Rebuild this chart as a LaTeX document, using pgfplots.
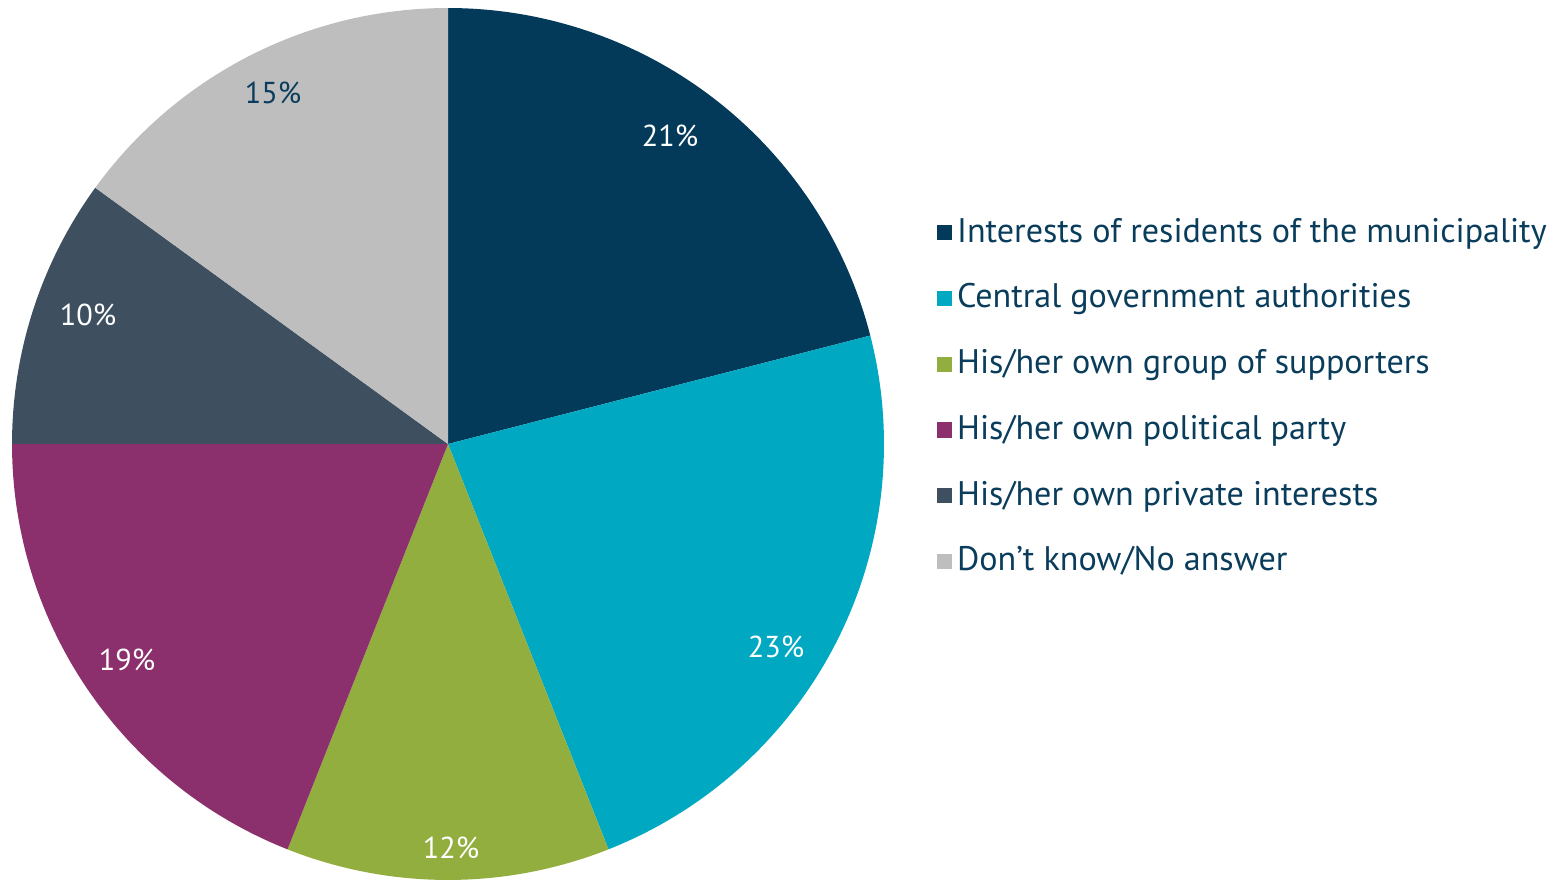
\documentclass[border=0pt]{standalone}
\usepackage{pgfplots}
\pgfplotsset{compat=1.18}
\usepackage{fontspec}
\setmainfont{PT Sans}
\definecolor{c1}{HTML}{033A5A}
\definecolor{c2}{HTML}{00A8C1}
\definecolor{c3}{HTML}{92AE3E}
\definecolor{c4}{HTML}{8B306C}
\definecolor{c5}{HTML}{3E5060}
\definecolor{c6}{HTML}{BEBEBE}
\definecolor{txt}{HTML}{0A3D5C}
% shares (percent), clockwise from 12 o'clock
\def\vA{21}\def\vB{23}\def\vC{12}\def\vD{19}\def\vE{10}\def\vF{15}
\pgfmathsetmacro{\aA}{90}
\pgfmathsetmacro{\aB}{\aA-3.6*\vA}
\pgfmathsetmacro{\aC}{\aB-3.6*\vB}
\pgfmathsetmacro{\aD}{\aC-3.6*\vC}
\pgfmathsetmacro{\aE}{\aD-3.6*\vD}
\pgfmathsetmacro{\aF}{\aE-3.6*\vE}
\pgfmathsetmacro{\aG}{\aF-3.6*\vF}
\def\cx{448}\def\cy{436}\def\rr{436}
\begin{document}
\begin{tikzpicture}
\begin{axis}[
  width=15.64cm, height=8.8cm, scale only axis,
  xmin=0, xmax=1564, ymin=0, ymax=880,
  hide axis, clip=false,
  legend style={at={(axis cs:936,668)}, anchor=north west, draw=none, fill=none,
    font=\fontsize{9.7}{11}\selectfont, text=txt, row sep=7.3pt,
    inner sep=0pt, nodes={inner sep=1.5pt}},
  legend cell align=left,
  legend image code/.code={\fill[#1,draw=none] (0pt,-2.2pt) rectangle (4.3pt,2.1pt);},
]
\addplot[fill=c1,draw=none,domain=\aB:\aA,samples=90,variable=\t] ({\cx+\rr*cos(\t)},{\cy+\rr*sin(\t)}) -- (axis cs:\cx,\cy) -- cycle;
\addlegendentry{Interests of residents of the municipality}
\addplot[fill=c2,draw=none,domain=\aC:\aB,samples=90,variable=\t] ({\cx+\rr*cos(\t)},{\cy+\rr*sin(\t)}) -- (axis cs:\cx,\cy) -- cycle;
\addlegendentry{Central government authorities}
\addplot[fill=c3,draw=none,domain=\aD:\aC,samples=90,variable=\t] ({\cx+\rr*cos(\t)},{\cy+\rr*sin(\t)}) -- (axis cs:\cx,\cy) -- cycle;
\addlegendentry{His/her own group of supporters}
\addplot[fill=c4,draw=none,domain=\aE:\aD,samples=90,variable=\t] ({\cx+\rr*cos(\t)},{\cy+\rr*sin(\t)}) -- (axis cs:\cx,\cy) -- cycle;
\addlegendentry{His/her own political party}
\addplot[fill=c5,draw=none,domain=\aF:\aE,samples=90,variable=\t] ({\cx+\rr*cos(\t)},{\cy+\rr*sin(\t)}) -- (axis cs:\cx,\cy) -- cycle;
\addlegendentry{His/her own private interests}
\addplot[fill=c6,draw=none,domain=\aG:\aF,samples=90,variable=\t] ({\cx+\rr*cos(\t)},{\cy+\rr*sin(\t)}) -- (axis cs:\cx,\cy) -- cycle;
\addlegendentry{Don’t know/No answer}
\begin{scope}[font=\fontsize{8.6}{10}\selectfont]
\node[text=white] at (axis cs:670,744) {\vA\%};
\node[text=white] at (axis cs:776,233) {\vB\%};
\node[text=white] at (axis cs:451,32) {\vC\%};
\node[text=white] at (axis cs:127,220) {\vD\%};
\node[text=white] at (axis cs:88,565) {\vE\%};
\node[text=txt] at (axis cs:273,787) {\vF\%};
\end{scope}
\end{axis}
\pgfresetboundingbox
\path (current axis.south west) rectangle (current axis.north east);
\end{tikzpicture}
\end{document}
